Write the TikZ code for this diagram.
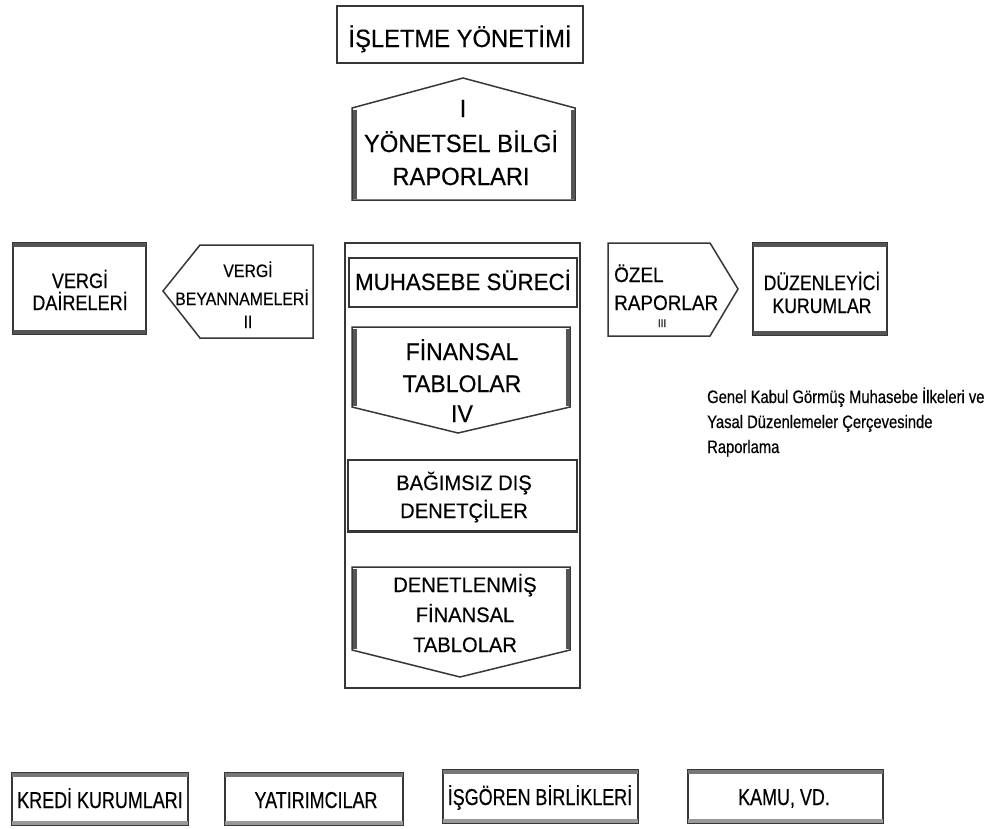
\documentclass[tikz,border=0pt]{standalone}
\usepackage{fontspec}
\setmainfont{Liberation Sans}
\newfontfamily\fA{Liberation Sans}[FakeStretch=0.95,FakeBold=0.4]
\newfontfamily\fB{Liberation Sans}[FakeStretch=0.88,FakeBold=0.4]
\newfontfamily\fC{Liberation Sans}[FakeStretch=0.78,FakeBold=0.4]
\newfontfamily\fD{Liberation Sans}[FakeStretch=0.86,FakeBold=0.4]
\newfontfamily\fE{Liberation Sans}[FakeStretch=0.84,FakeBold=0.4]
\newfontfamily\fG{Liberation Sans}[FakeStretch=0.82,FakeBold=0.4]
\newfontfamily\fH{Liberation Sans}[FakeStretch=0.96,FakeBold=0.4]
\newfontfamily\fO{Liberation Sans}[FakeStretch=0.90,FakeBold=0.4]
\definecolor{lineg}{RGB}{55,55,55}
\definecolor{shadeg}{RGB}{85,85,85}
\tikzset{
  edge/.style={draw=lineg, line width=1.5pt, line join=miter},
  heavy/.style={draw=shadeg, line width=4pt},
  lbl/.style={anchor=base, inner sep=0pt, text=black},
  lblw/.style={anchor=base west, inner sep=0pt, text=black},
}
\begin{document}
\begin{tikzpicture}[x=1pt,y=-1pt]
\useasboundingbox (0,0) rectangle (995,828);
\fill[white] (0,0) rectangle (995,828);

% top box
\draw[edge] (337,6) rectangle (583,63);
\node[lbl, font=\fA\fontsize{25}{30}\selectfont] (t1) at (460,47) {İŞLETME YÖNETİMİ};

% I pentagon
\draw[edge] (352,108) -- (463,78) -- (575,108) -- (575,200) -- (352,200) -- cycle;
\draw[heavy] (354.5,110) -- (354.5,199);
\draw[heavy] (572.5,110) -- (572.5,199);
\node[lbl, font=\fA\fontsize{25}{30}\selectfont] (y1) at (463,117) {I};
\node[lbl, font=\fA\fontsize{25}{30}\selectfont] (y2) at (461,152) {YÖNETSEL BİLGİ};
\node[lbl, font=\fA\fontsize{25}{30}\selectfont] (y3) at (461,185) {RAPORLARI};

% main column
\draw[edge] (345,243) rectangle (580,688);
\draw[edge] (349,258) rectangle (577,307);
\node[lbl, font=\fA\fontsize{23.5}{28}\selectfont] (m1) at (463,290) {MUHASEBE SÜRECİ};

\draw[edge] (352,327) -- (570,327) -- (570,407) -- (458,433) -- (352,407) -- cycle;
\draw[heavy] (354.5,329) -- (354.5,406);
\draw[heavy] (567.5,329) -- (567.5,406);
\node[lbl, font=\fH\fontsize{24}{28}\selectfont] (f1) at (462,360) {FİNANSAL};
\node[lbl, font=\fH\fontsize{24}{28}\selectfont] (f2) at (462,392) {TABLOLAR};
\node[lbl, font=\fH\fontsize{24}{28}\selectfont] (f3) at (462,422) {IV};

\draw[edge] (348,460) rectangle (577,532);
\draw[draw=lineg, line width=2.5pt] (348,531) -- (577,531);
\node[lbl, font=\fH\fontsize{21}{25}\selectfont] (b1) at (464,490) {BAĞIMSIZ DIŞ};
\node[lbl, font=\fH\fontsize{21}{25}\selectfont] (b2) at (464,518) {DENETÇİLER};

\draw[edge] (352,567) -- (570,567) -- (570,650) -- (460,677) -- (352,650) -- cycle;
\draw[heavy] (354.5,569) -- (354.5,649);
\draw[heavy] (567.5,569) -- (567.5,649);
\node[lbl, font=\fH\fontsize{21}{25}\selectfont] (d1) at (465,592) {DENETLENMİŞ};
\node[lbl, font=\fH\fontsize{21}{25}\selectfont] (d2) at (465,622) {FİNANSAL};
\node[lbl, font=\fH\fontsize{21}{25}\selectfont] (d3) at (465,652) {TABLOLAR};

% left side
\draw[edge] (13,243) rectangle (146,334);
\draw[heavy] (13,245) -- (146,245);
\draw[heavy] (13,332) -- (146,332);
\node[lbl, font=\fD\fontsize{21}{25}\selectfont] (v1) at (80,288) {VERGİ};
\node[lbl, font=\fD\fontsize{21}{25}\selectfont] (v2) at (80,310) {DAİRELERİ};

\draw[edge] (163,291) -- (200,245) -- (313,245) -- (313,338) -- (200,338) -- cycle;
\node[lbl, font=\fB\fontsize{18}{22}\selectfont] (w1) at (248,277) {VERGİ};
\node[lbl, font=\fB\fontsize{18}{22}\selectfont] (w2) at (242,305) {BEYANNAMELERİ};
\node[lbl, font=\fB\fontsize{18}{22}\selectfont] (w3) at (248,328) {II};

% right side
\draw[edge] (608,243) -- (710,243) -- (738,289) -- (710,336) -- (608,336) -- cycle;
\node[lblw, font=\fO\fontsize{21}{25}\selectfont] (o1) at (614,282) {ÖZEL};
\node[lblw, font=\fO\fontsize{21}{25}\selectfont] (o2) at (614,310) {RAPORLAR};
\node[lbl, font=\fO\fontsize{11}{13}\selectfont] (o3) at (662,327) {III};

\draw[edge] (753,243) rectangle (887,335);
\draw[heavy] (753,245) -- (887,245);
\draw[heavy] (753,333) -- (887,333);
\node[lbl, font=\fE\fontsize{21}{25}\selectfont] (z1) at (822,290) {DÜZENLEYİCİ};
\node[lbl, font=\fE\fontsize{21}{25}\selectfont] (z2) at (822,313) {KURUMLAR};

% note text
\node[lblw, font=\fG\fontsize{18}{22}\selectfont] (g1) at (707,403) {Genel Kabul Görmüş Muhasebe İlkeleri ve};
\node[lblw, font=\fG\fontsize{18}{22}\selectfont] (g2) at (707,428) {Yasal Düzenlemeler Çerçevesinde};
\node[lblw, font=\fG\fontsize{18}{22}\selectfont] (g3) at (707,453) {Raporlama};

% bottom boxes
\draw[edge] (12,773) rectangle (188,825);
\draw[heavy, draw=shadeg!80] (12,775) -- (188,775);
\draw[heavy, draw=shadeg!60] (12,823) -- (188,823);
\node[lbl, font=\fC\fontsize{23}{27}\selectfont] (k1) at (100,808) {KREDİ KURUMLARI};

\draw[edge] (225,773) rectangle (403,825);
\draw[heavy, draw=shadeg!80] (225,775) -- (403,775);
\draw[heavy, draw=shadeg!60] (225,823) -- (403,823);
\node[lbl, font=\fC\fontsize{23}{27}\selectfont] (k2) at (316,808) {YATIRIMCILAR};

\draw[edge] (443,770) rectangle (638,823);
\draw[heavy, draw=shadeg!80] (443,772) -- (638,772);
\draw[heavy, draw=shadeg!60] (443,821) -- (638,821);
\node[lbl, font=\fC\fontsize{23}{27}\selectfont] (k3) at (540,805) {İŞGÖREN BİRLİKLERİ};

\draw[edge] (688,770) rectangle (883,823);
\draw[heavy, draw=shadeg!80] (688,772) -- (883,772);
\draw[heavy, draw=shadeg!60] (688,821) -- (883,821);
\node[lbl, font=\fC\fontsize{23}{27}\selectfont] (k4) at (784,805) {KAMU, VD.};
\end{tikzpicture}
\end{document}
